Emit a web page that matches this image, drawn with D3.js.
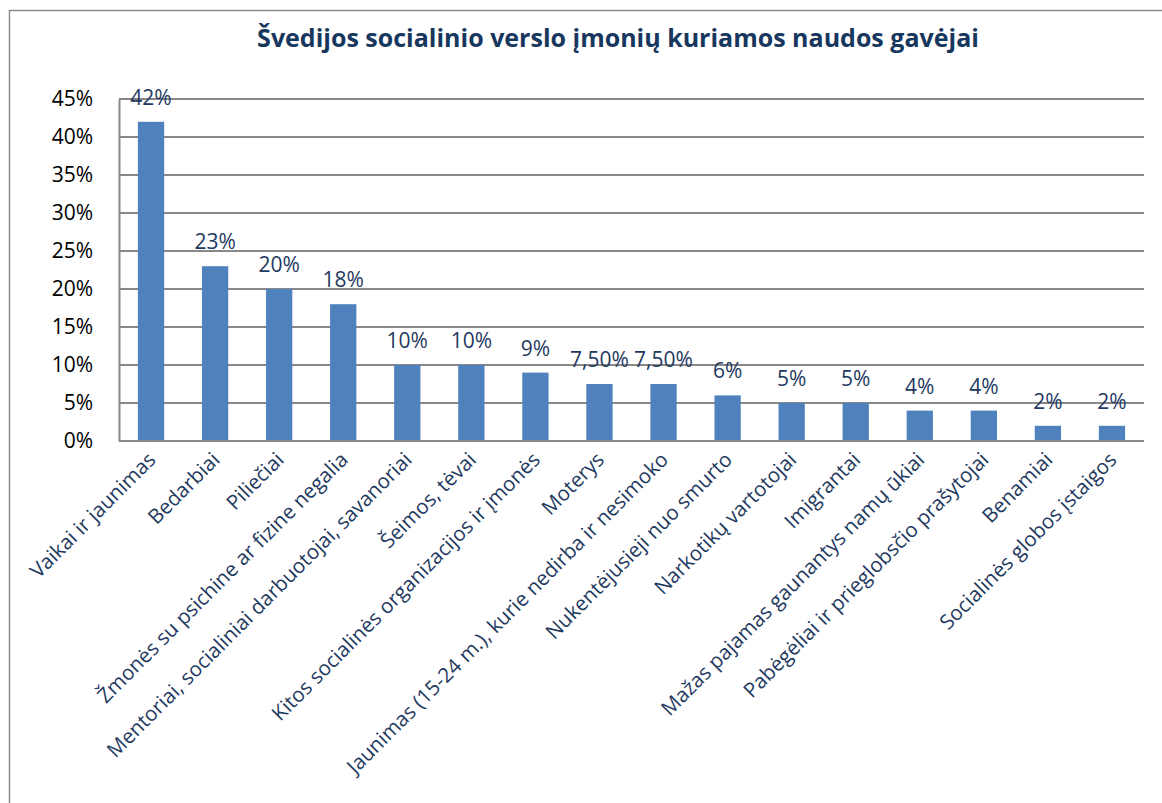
<!DOCTYPE html>
<html>
<head>
<meta charset="utf-8">
<script src="https://cdn.jsdelivr.net/npm/d3@7"></script>
<style>
  body { margin: 0; background: #fff; }
  svg { font-family: "Open Sans", "Noto Sans", sans-serif; }
</style>
</head>
<body>
<svg width="1162" height="803"></svg>
<script>
const categories = [
  "Vaikai ir jaunimas",
  "Bedarbiai",
  "Piliečiai",
  "Žmonės su psichine ar fizine negalia",
  "Mentoriai, socialiniai darbuotojai, savanoriai",
  "Šeimos, tėvai",
  "Kitos socialinės organizacijos ir įmonės",
  "Moterys",
  "Jaunimas (15-24 m.), kurie nedirba ir nesimoko",
  "Nukentėjusieji nuo smurto",
  "Narkotikų vartotojai",
  "Imigrantai",
  "Mažas pajamas gaunantys namų ūkiai",
  "Pabėgėliai ir prieglobsčio prašytojai",
  "Benamiai",
  "Socialinės globos įstaigos"
];
const values = [42, 23, 20, 18, 10, 10, 9, 7.5, 7.5, 6, 5, 5, 4, 4, 2, 2];
const valueLabels = ["42%", "23%", "20%", "18%", "10%", "10%", "9%", "7,50%", "7,50%", "6%", "5%", "5%", "4%", "4%", "2%", "2%"];
const yTicks = [0, 5, 10, 15, 20, 25, 30, 35, 40, 45];
const title = "Švedijos socialinio verslo įmonių kuriamos naudos gavėjai";

const svg = d3.select("svg");
const plotLeft = 119, plotRight = 1144, plotTop = 99, plotBottom = 441;

// chart frame
svg.append("rect")
  .attr("x", 9.5).attr("y", 10.5)
  .attr("width", 1170).attr("height", 820)
  .attr("fill", "none").attr("stroke", "#8c8c8c").attr("stroke-width", 1.5);

svg.append("text")
  .attr("x", 618).attr("y", 47)
  .attr("text-anchor", "middle")
  .attr("font-size", 25).attr("font-weight", "bold")
  .attr("fill", "#17375E")
  .text(title);

const x = d3.scaleBand().domain(categories).range([plotLeft, plotRight]).paddingInner(0.59).paddingOuter(0.295);
const y = d3.scaleLinear().domain([0, 45]).range([plotBottom, plotTop]);

// gridlines
svg.append("g")
  .selectAll("line")
  .data(yTicks)
  .join("line")
  .attr("x1", plotLeft).attr("x2", plotRight)
  .attr("y1", d => y(d)).attr("y2", d => y(d))
  .attr("stroke", "#888").attr("stroke-width", 2);

// y axis
const yAxis = d3.axisLeft(y).tickValues(yTicks).tickFormat(d => d + "%").tickSize(0).tickPadding(26);
svg.append("g")
  .attr("transform", `translate(${plotLeft},0)`)
  .call(yAxis)
  .call(g => g.select(".domain").attr("stroke", "#888").attr("stroke-width", 2))
  .call(g => g.selectAll("text").attr("font-size", 21).attr("fill", "#000").attr("font-family", "Open Sans"));

// bars
svg.append("g")
  .selectAll("rect")
  .data(values)
  .join("rect")
  .attr("x", (d, i) => x(categories[i]))
  .attr("y", d => y(d))
  .attr("width", x.bandwidth())
  .attr("height", d => y(0) - y(d))
  .attr("fill", "#4F81BD");

// bottom axis line
svg.append("line")
  .attr("x1", plotLeft).attr("x2", plotRight)
  .attr("y1", plotBottom).attr("y2", plotBottom)
  .attr("stroke", "#888").attr("stroke-width", 2);

// value labels
svg.append("g")
  .selectAll("text")
  .data(values)
  .join("text")
  .attr("x", (d, i) => x(categories[i]) + x.bandwidth() / 2)
  .attr("y", d => y(d) - 17)
  .attr("text-anchor", "middle")
  .attr("font-size", 21)
  .attr("fill", "#1F3A5F")
  .text((d, i) => valueLabels[i]);

// category labels
svg.append("g")
  .selectAll("text")
  .data(categories)
  .join("text")
  .attr("transform", d => `translate(${x(d) + x.bandwidth() / 2 + 6},${plotBottom + 20}) rotate(-45)`)
  .attr("text-anchor", "end")
  .attr("font-size", 20.5)
  .attr("fill", "#1F3A5F")
  .text(d => d);
</script>
</body>
</html>
